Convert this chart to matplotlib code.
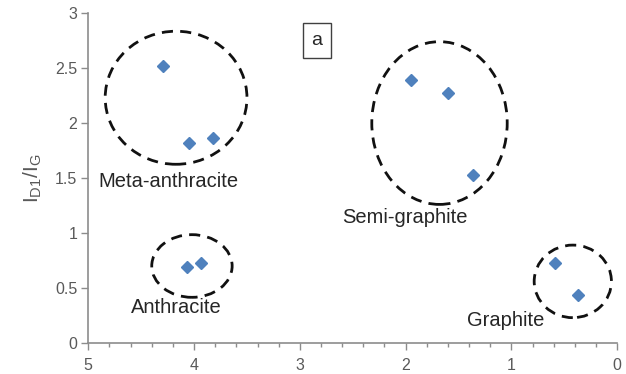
import matplotlib.pyplot as plt
from matplotlib.patches import Ellipse
from matplotlib.ticker import MultipleLocator

plt.rcParams['font.family'] = ['Liberation Sans', 'DejaVu Sans']

# band ratio vs. x for the four carbon groups
meta_x = [4.29, 4.05, 3.82]
meta_y = [2.52, 1.82, 1.86]
semi_x = [1.95, 1.60, 1.36]
semi_y = [2.39, 2.27, 1.53]
anth_x = [4.07, 3.93]
anth_y = [0.69, 0.73]
graph_x = [0.59, 0.37]
graph_y = [0.73, 0.44]

groups = ['Meta-anthracite', 'Semi-graphite', 'Anthracite', 'Graphite']
# ellipse centre x, centre y, width, height per group
rings = [(4.17, 2.23, 1.34, 1.21),
         (1.68, 2.00, 1.28, 1.48),
         (4.02, 0.70, 0.76, 0.57),
         (0.42, 0.56, 0.73, 0.66)]
label_pos = [(4.24, 1.47), (2.01, 1.14), (4.17, 0.32), (1.05, 0.20)]

axis_grey = '#8c8c8c'
text_grey = '#595959'

fig = plt.figure(figsize=(6.26, 3.74), dpi=100)
ax = fig.add_axes([0.141, 0.083, 0.845, 0.882])

all_x = meta_x + semi_x + anth_x + graph_x
all_y = meta_y + semi_y + anth_y + graph_y
ax.plot(all_x, all_y, linestyle='none', marker='D', markersize=6.5,
        color='#4f81bd', markeredgecolor='#4f81bd')

for cx, cy, w, h in rings:
    ax.add_patch(Ellipse((cx, cy), w, h, fill=False, edgecolor='#111111',
                         linewidth=2.0, linestyle=(0, (4, 2.6))))

for name, (lx, ly) in zip(groups, label_pos):
    ax.text(lx, ly, name, ha='center', va='center', fontsize=14.5, color='#262626')

ax.text(2.84, 2.75, 'a', ha='center', va='center', fontsize=14, color='#262626',
        bbox=dict(boxstyle='square,pad=0.45', facecolor='white', edgecolor='#404040',
                  linewidth=1.0))

ax.set_xlim(5, 0)
ax.set_ylim(0, 3)
ax.xaxis.set_major_locator(MultipleLocator(1))
ax.xaxis.set_minor_locator(MultipleLocator(0.2))
ax.set_yticks([0, 0.5, 1, 1.5, 2, 2.5, 3])
ax.set_yticklabels(['0', '0.5', '1', '1.5', '2', '2.5', '3'])

for side in ['top', 'right']:
    ax.spines[side].set_visible(False)
for side in ['left', 'bottom']:
    ax.spines[side].set_color(axis_grey)
    ax.spines[side].set_linewidth(1.2)

ax.tick_params(axis='both', which='major', direction='out', length=5, width=1,
               color=axis_grey, labelsize=11.5, labelcolor=text_grey, pad=3)
ax.tick_params(axis='x', which='major', pad=6)
ax.tick_params(axis='x', which='minor', direction='out', length=3, width=1,
               color=axis_grey)

ax.set_ylabel(r'$\mathregular{I_{D1}/I_G}$', fontsize=15, color=text_grey, labelpad=8)

fig.savefig('out.png', dpi=100)
